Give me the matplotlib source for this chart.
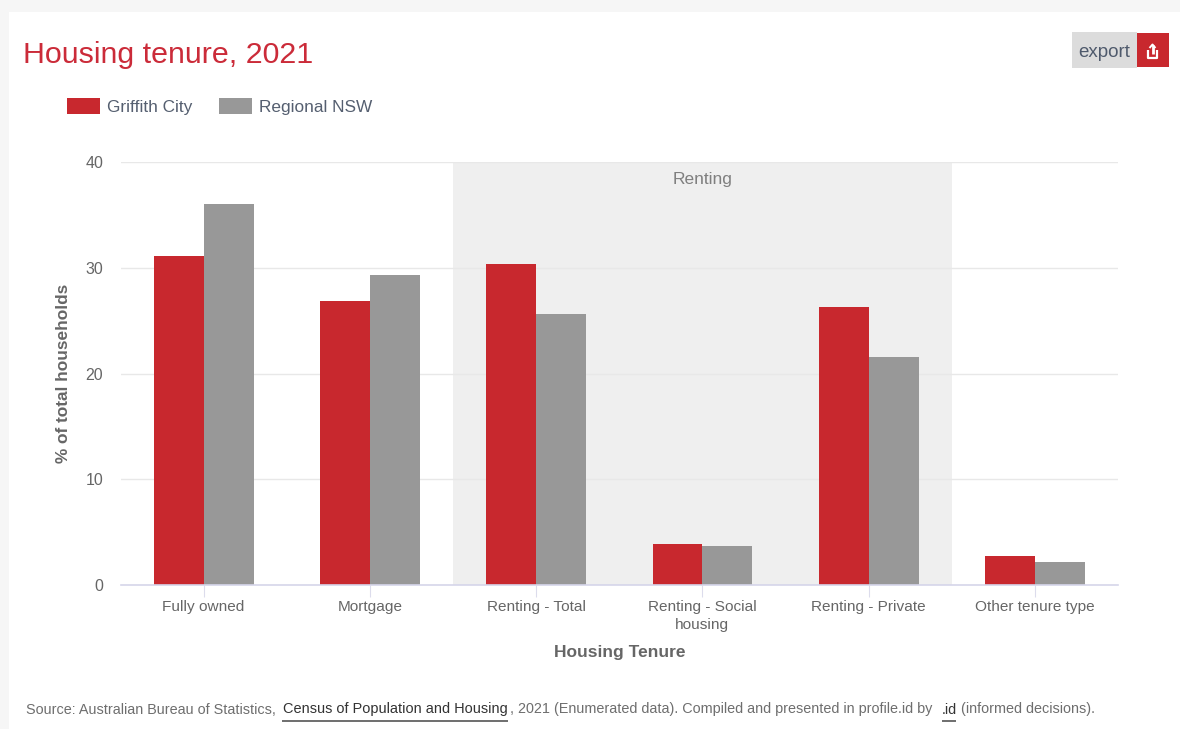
import matplotlib
matplotlib.use("Agg")
import matplotlib.pyplot as plt
from matplotlib.patches import Rectangle
import numpy as np

categories = ["Fully owned", "Mortgage", "Renting - Total", "Renting - Social\nhousing", "Renting - Private", "Other tenure type"]
griffith = [31.1, 26.9, 30.4, 3.9, 26.3, 2.7]
regional = [36.0, 29.3, 25.6, 3.7, 21.6, 2.2]
y_ticks = [0, 10, 20, 30, 40]

RED = "#c8282e"
GREY = "#989898"
W, H = 1180, 729

plt.rcParams["font.family"] = ["Liberation Sans", "DejaVu Sans"]

fig = plt.figure(figsize=(W / 100, H / 100), dpi=100, facecolor="#f6f6f6")


# helpers working in page pixels, origin top left
def page_rect(x, y, w, h, color, zorder=0):
    fig.add_artist(Rectangle((x / W, 1 - (y + h) / H), w / W, h / H, transform=fig.transFigure,
                             facecolor=color, edgecolor="none", zorder=zorder))


def page_text(x, y, s, **kw):
    return fig.text(x / W, 1 - y / H, s, **kw)


def page_line(xs, ys, color, lw, zorder=3):
    fig.add_artist(plt.Line2D([x / W for x in xs], [1 - y / H for y in ys], color=color, lw=lw,
                              transform=fig.transFigure, zorder=zorder, solid_capstyle="butt"))


page_rect(9, 12, W - 9, H - 12, "white", zorder=-1)

ax = fig.add_axes([120.5 / W, 1 - 585 / H, 997.5 / W, 423 / H])
ax.set_facecolor("none")
x = np.arange(len(categories))
bar_w = 0.3

ax.axvspan(1.5, 4.5, color="#efefef", lw=0, zorder=0)
ax.bar(x - bar_w / 2, griffith, bar_w, color=RED, zorder=3, label="Griffith City")
ax.bar(x + bar_w / 2, regional, bar_w, color=GREY, zorder=3, label="Regional NSW")
ax.text(3, 38.35, "Renting", ha="center", va="center", fontsize=12.5, color="#7f7f7f")

ax.set_xlim(-0.5, 5.5)
ax.set_ylim(0, 40)
ax.set_yticks(y_ticks)
ax.set_xticks(x)
ax.set_xticklabels(categories, linespacing=1.35)
ax.grid(axis="y", color="#e8e8e8", lw=1, zorder=1)
ax.set_axisbelow(True)
for s in ["top", "left", "right"]:
    ax.spines[s].set_visible(False)
ax.spines["bottom"].set_color("#d6d6ea")
ax.spines["bottom"].set_linewidth(1.2)
ax.spines["bottom"].set_zorder(4)
ax.tick_params(axis="y", length=0, pad=12.5, labelsize=11.5, labelcolor="#666666")
ax.tick_params(axis="x", length=8.5, width=0.8, color="#dcdcec", pad=2.3, labelsize=11.1, labelcolor="#666666")

page_text(64, 373, "% of total households", rotation=90, ha="center", va="center",
          fontsize=12.4, fontweight="bold", color="#666666")
page_text(620, 652, "Housing Tenure", ha="center", va="center", fontsize=12.5, fontweight="bold", color="#666666")

# title and legend
page_text(23, 55, "Housing tenure, 2021", ha="left", va="center", fontsize=21.9, color="#cb2b39")
page_rect(67, 98, 33, 16, RED, zorder=2)
page_text(107, 107.5, "Griffith City", ha="left", va="center", fontsize=12.4, color="#555f70")
page_rect(219, 98, 33, 16, GREY, zorder=2)
page_text(259, 107.5, "Regional NSW", ha="left", va="center", fontsize=12.4, color="#555f70")

# export button
page_rect(1072, 32, 65, 36, "#dcdcdc", zorder=2)
page_rect(1137, 33, 32, 34, RED, zorder=2)
page_text(1104, 52.5, "export", ha="center", va="center", fontsize=13.5, color="#4f5a6c", zorder=3)
page_line([1148, 1148, 1157, 1157], [50, 58, 58, 50], "white", 1.6)
page_line([1152.5, 1152.5], [45, 54], "white", 2.0)
page_line([1149.5, 1152.5, 1155.5], [48, 44.5, 48], "white", 1.4)

# source line
SRC = "#6e6e6e"
page_text(26, 709.5, "Source: Australian Bureau of Statistics,", ha="left", va="center", fontsize=10.4, color=SRC)
page_text(283, 709.5, "Census of Population and Housing", ha="left", va="center", fontsize=10.45, color="#333333")
page_line([282, 508], [720.5, 720.5], "#555555", 1.2)
page_text(510, 709.5, ", 2021 (Enumerated data). Compiled and presented in profile.id by", ha="left", va="center",
          fontsize=10.4, color=SRC)
page_text(942, 709.5, ".id", ha="left", va="center", fontsize=10.4, color="#333333")
page_line([942, 956], [720.5, 720.5], "#555555", 1.2)
page_text(961, 709.5, "(informed decisions).", ha="left", va="center", fontsize=10.4, color=SRC)

fig.savefig("out.png", dpi=100, facecolor=fig.get_facecolor())
